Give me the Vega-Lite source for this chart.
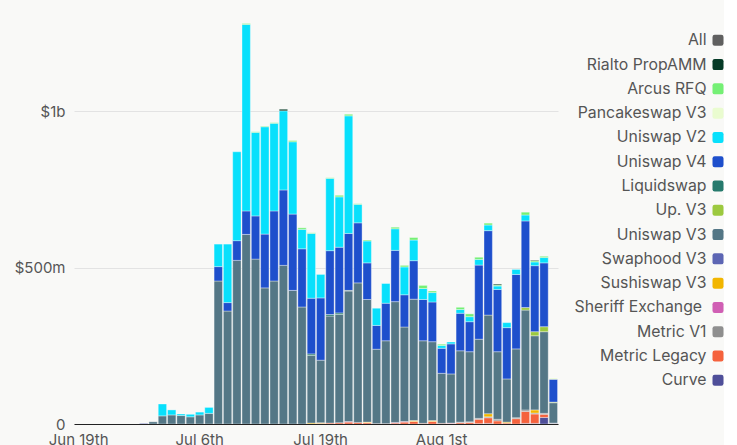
{
  "$schema": "https://vega.github.io/schema/vega-lite/v6.json",
  "background": "#f9f9f7",
  "padding": {"left": 14, "top": 11, "right": 0, "bottom": 0},
  "spacing": 10,
  "config": {
    "view": {"stroke": null},
    "font": "Inter",
    "axis": {"labelFont": "Inter", "labelFontSize": 15, "labelColor": "#555555"}
  },
  "datasets": {
    "volume": [
      {"d": "Jun 30th", "Swaphood V3": 2},
      {"d": "Jul 1st", "Uniswap V3": 7},
      {"d": "Jul 2nd", "Uniswap V3": 26, "Uniswap V2": 38},
      {"d": "Jul 3rd", "Uniswap V3": 29, "Uniswap V2": 16},
      {"d": "Jul 4th", "Uniswap V3": 27, "Uniswap V2": 5},
      {"d": "Jul 5th", "Uniswap V3": 23, "Uniswap V2": 8},
      {"d": "Jul 6th", "Uniswap V3": 29, "Uniswap V2": 9},
      {"d": "Jul 7th", "Uniswap V3": 34, "Uniswap V2": 19},
      {"d": "Jul 8th", "Uniswap V3": 457, "Uniswap V4": 46, "Uniswap V2": 72},
      {"d": "Jul 9th", "Uniswap V3": 361, "Uniswap V4": 27, "Uniswap V2": 187},
      {"d": "Jul 10th", "Uniswap V3": 523, "Uniswap V4": 63, "Uniswap V2": 284},
      {"d": "Jul 11th", "Uniswap V3": 606, "Uniswap V4": 75, "Uniswap V2": 596, "Arcus RFQ": 3},
      {"d": "Jul 12th", "Uniswap V3": 527, "Uniswap V4": 138, "Uniswap V2": 267, "Arcus RFQ": 2},
      {"d": "Jul 13th", "Uniswap V3": 435, "Uniswap V4": 172, "Uniswap V2": 343, "Arcus RFQ": 2},
      {"d": "Jul 14th", "Uniswap V3": 457, "Uniswap V4": 224, "Uniswap V2": 280, "Arcus RFQ": 2},
      {"d": "Jul 15th", "Uniswap V3": 507, "Uniswap V4": 241, "Uniswap V2": 253, "Rialto PropAMM": 5},
      {"d": "Jul 16th", "Uniswap V3": 427, "Uniswap V4": 244, "Uniswap V2": 231, "Arcus RFQ": 4},
      {"d": "Jul 17th", "Uniswap V3": 374, "Uniswap V4": 186, "Uniswap V2": 62, "Arcus RFQ": 5},
      {"d": "Jul 18th", "Sushiswap V3": 3, "Uniswap V3": 216, "Liquidswap": 5, "Uniswap V4": 178, "Uniswap V2": 207, "Arcus RFQ": 2},
      {"d": "Jul 19th", "Metric Legacy": 2, "Sushiswap V3": 2, "Uniswap V3": 200, "Uniswap V4": 199, "Uniswap V2": 75},
      {"d": "Jul 20th", "Metric Legacy": 3, "Uniswap V3": 342, "Liquidswap": 5, "Uniswap V4": 204, "Uniswap V2": 231, "Arcus RFQ": 2},
      {"d": "Jul 21st", "Metric Legacy": 4, "Uniswap V3": 346, "Liquidswap": 5, "Uniswap V4": 210, "Uniswap V2": 161, "Arcus RFQ": 5},
      {"d": "Jul 22nd", "Metric Legacy": 6, "Sheriff Exchange V3": 2, "Uniswap V3": 417, "Up. V3": 2, "Uniswap V4": 182, "Uniswap V2": 376, "Arcus RFQ": 5},
      {"d": "Jul 23rd", "Metric Legacy": 5, "Uniswap V3": 446, "Uniswap V4": 192, "Uniswap V2": 59, "Arcus RFQ": 2},
      {"d": "Jul 24th", "Metric Legacy": 4, "Sushiswap V3": 2, "Uniswap V3": 392, "Uniswap V4": 117, "Uniswap V2": 70, "Arcus RFQ": 3},
      {"d": "Jul 25th", "Metric Legacy": 1, "Uniswap V3": 238, "Uniswap V4": 76, "Uniswap V2": 55},
      {"d": "Jul 26th", "Metric Legacy": 1, "Uniswap V3": 265, "Uniswap V4": 120, "Uniswap V2": 63},
      {"d": "Jul 27th", "Metric Legacy": 3, "Sheriff Exchange V3": 2, "Uniswap V3": 386, "Uniswap V4": 164, "Uniswap V2": 69, "Arcus RFQ": 5},
      {"d": "Jul 28th", "Metric Legacy": 6, "Sheriff Exchange V3": 2, "Uniswap V3": 302, "Uniswap V4": 103, "Uniswap V2": 89, "Arcus RFQ": 5},
      {"d": "Jul 29th", "Metric Legacy": 8, "Sushiswap V3": 3, "Uniswap V3": 388, "Uniswap V4": 123, "Uniswap V2": 66, "Arcus RFQ": 8},
      {"d": "Jul 30th", "Metric Legacy": 2, "Uniswap V3": 264, "Uniswap V4": 132, "Uniswap V2": 35, "Arcus RFQ": 10},
      {"d": "Jul 31st", "Metric Legacy": 8, "Sushiswap V3": 3, "Uniswap V3": 252, "Uniswap V4": 127, "Uniswap V2": 30, "Arcus RFQ": 5},
      {"d": "Aug 1st", "Metric Legacy": 2, "Uniswap V3": 160, "Uniswap V4": 80, "Uniswap V2": 9, "Arcus RFQ": 4},
      {"d": "Aug 2nd", "Metric Legacy": 2, "Sheriff Exchange V3": 1, "Uniswap V3": 157, "Uniswap V4": 96, "Uniswap V2": 6},
      {"d": "Aug 3rd", "Metric Legacy": 4, "Metric V1": 2, "Uniswap V3": 228, "Uniswap V4": 120, "Uniswap V2": 12, "Arcus RFQ": 7},
      {"d": "Aug 4th", "Metric Legacy": 5, "Metric V1": 2, "Uniswap V3": 224, "Uniswap V4": 96, "Uniswap V2": 16, "Arcus RFQ": 9},
      {"d": "Aug 5th", "Curve": 1, "Metric Legacy": 14, "Metric V1": 3, "Uniswap V3": 253, "Uniswap V4": 237, "Uniswap V2": 18, "Arcus RFQ": 7},
      {"d": "Aug 6th", "Curve": 2, "Metric Legacy": 18, "Metric V1": 3, "Sushiswap V3": 10, "Uniswap V3": 315, "Uniswap V4": 270, "Uniswap V2": 18, "Arcus RFQ": 6},
      {"d": "Aug 7th", "Metric Legacy": 10, "Metric V1": 5, "Uniswap V3": 216, "Uniswap V4": 199, "Uniswap V2": 11, "Arcus RFQ": 3, "Rialto PropAMM": 3},
      {"d": "Aug 8th", "Metric Legacy": 3, "Sushiswap V3": 3, "Uniswap V3": 138, "Uniswap V4": 164, "Uniswap V2": 16},
      {"d": "Aug 9th", "Metric Legacy": 17, "Metric V1": 3, "Uniswap V3": 220, "Uniswap V4": 238, "Uniswap V2": 16},
      {"d": "Aug 10th", "Curve": 2, "Metric Legacy": 38, "Metric V1": 5, "Uniswap V3": 319, "Up. V3": 8, "Uniswap V4": 277, "Uniswap V2": 19, "Arcus RFQ": 9},
      {"d": "Aug 11th", "Curve": 2, "Metric Legacy": 30, "Metric V1": 3, "Sushiswap V3": 10, "Uniswap V3": 237, "Up. V3": 13, "Uniswap V4": 211, "Uniswap V2": 12, "Arcus RFQ": 4, "Rialto PropAMM": 2},
      {"d": "Aug 12th", "Curve": 21, "Metric Legacy": 10, "Metric V1": 3, "Uniswap V3": 261, "Up. V3": 16, "Uniswap V4": 204, "Uniswap V2": 17, "Arcus RFQ": 4},
      {"d": "Aug 13th", "Curve": 2, "Metric V1": 1, "Uniswap V3": 65, "Up. V3": 2, "Uniswap V4": 73, "Pancakeswap V3": 4}
    ],
    "legend": [
      {"s": "All", "r": 15},
      {"s": "Rialto PropAMM", "r": 14},
      {"s": "Arcus RFQ", "r": 13},
      {"s": "Pancakeswap V3", "r": 12},
      {"s": "Uniswap V2", "r": 11},
      {"s": "Uniswap V4", "r": 10},
      {"s": "Liquidswap", "r": 9},
      {"s": "Up. V3", "r": 8},
      {"s": "Uniswap V3", "r": 7},
      {"s": "Swaphood V3", "r": 6},
      {"s": "Sushiswap V3", "r": 5},
      {"s": "Sheriff Exchange V3", "r": 4},
      {"s": "Metric V1", "r": 3},
      {"s": "Metric Legacy", "r": 2},
      {"s": "Curve", "r": 1}
    ]
  },
  "hconcat": [
    {
      "width": 484,
      "height": 413,
      "data": {"name": "volume"},
      "transform": [
        {"fold": ["Curve", "Metric Legacy", "Metric V1", "Sheriff Exchange V3", "Sushiswap V3", "Swaphood V3", "Uniswap V3", "Up\\. V3", "Liquidswap", "Uniswap V4", "Uniswap V2", "Pancakeswap V3", "Arcus RFQ", "Rialto PropAMM"], "as": ["s", "v"]},
        {"filter": "isValid(datum.v) && datum.v > 0"},
        {"lookup": "s", "from": {"data": {"name": "legend"}, "key": "s", "fields": ["r"]}}
      ],
      "mark": {"type": "bar", "stroke": "#ffffff", "strokeWidth": 0.8, "strokeOpacity": 0.45},
      "encoding": {
        "x": {
          "field": "d",
          "type": "nominal",
          "scale": {
            "domain": ["Jun 19th", "Jun 20th", "Jun 22nd", "Jun 24th", "Jun 26th", "Jun 28th", "Jun 29th", "Jun 30th", "Jul 1st", "Jul 2nd", "Jul 3rd", "Jul 4th", "Jul 5th", "Jul 6th", "Jul 7th", "Jul 8th", "Jul 9th", "Jul 10th", "Jul 11th", "Jul 12th", "Jul 13th", "Jul 14th", "Jul 15th", "Jul 16th", "Jul 17th", "Jul 18th", "Jul 19th", "Jul 20th", "Jul 21st", "Jul 22nd", "Jul 23rd", "Jul 24th", "Jul 25th", "Jul 26th", "Jul 27th", "Jul 28th", "Jul 29th", "Jul 30th", "Jul 31st", "Aug 1st", "Aug 2nd", "Aug 3rd", "Aug 4th", "Aug 5th", "Aug 6th", "Aug 7th", "Aug 8th", "Aug 9th", "Aug 10th", "Aug 11th", "Aug 12th", "Aug 13th"],
            "paddingInner": 0.1,
            "paddingOuter": 0.05
          },
          "axis": {
            "title": null,
            "values": ["Jun 19th", "Jul 6th", "Jul 19th", "Aug 1st"],
            "labelAngle": 0,
            "ticks": false,
            "labelPadding": 8,
            "domainColor": "#222222",
            "domainWidth": 1,
            "zindex": 1
          }
        },
        "y": {
          "field": "v",
          "type": "quantitative",
          "stack": "zero",
          "scale": {"domain": [0, 1320], "nice": false},
          "axis": {
            "title": null,
            "values": [0, 500, 1000],
            "labelExpr": "datum.value == 0 ? '0' : datum.value >= 1000 ? '$' + datum.value / 1000 + 'b' : '$' + datum.value + 'm'",
            "ticks": false,
            "domain": false,
            "labelPadding": 9,
            "gridColor": "#e3e3e3"
          }
        },
        "order": {"field": "r", "type": "quantitative", "sort": "ascending"},
        "color": {
          "field": "s",
          "type": "nominal",
          "scale": {
            "domain": ["Curve", "Metric Legacy", "Metric V1", "Sheriff Exchange V3", "Sushiswap V3", "Swaphood V3", "Uniswap V3", "Up. V3", "Liquidswap", "Uniswap V4", "Uniswap V2", "Pancakeswap V3", "Arcus RFQ", "Rialto PropAMM", "All"],
            "range": ["#4f4f99", "#f5623d", "#8f8f8f", "#d05fb4", "#f2b600", "#5d66b4", "#547786", "#9cc93f", "#267a6d", "#1e4fcc", "#08e0fc", "#eafcd0", "#75f075", "#053a26", "#606060"]
          },
          "legend": null
        }
      }
    },
    {
      "width": 150,
      "height": 413,
      "data": {"name": "legend"},
      "encoding": {
        "y": {
          "field": "s",
          "type": "nominal",
          "sort": null,
          "scale": {"type": "point", "padding": 0, "range": [29.3, 369.3]},
          "axis": null
        },
        "x": {"datum": 1, "type": "quantitative", "scale": {"domain": [0, 1]}, "axis": null}
      },
      "layer": [
        {
          "mark": {"type": "text", "align": "right", "baseline": "middle", "dx": -11.5, "fontSize": 15.8, "font": "Inter", "color": "#555555", "limit": 141, "ellipsis": "\u200b"},
          "encoding": {"text": {"field": "s"}}
        },
        {
          "mark": {
            "type": "point",
            "filled": true,
            "opacity": 1,
            "size": 121,
            "shape": "M -0.6 -1 H 0.6 Q 1 -1 1 -0.6 V 0.6 Q 1 1 0.6 1 H -0.6 Q -1 1 -1 0.6 V -0.6 Q -1 -1 -0.6 -1 Z"
          },
          "encoding": {
            "color": {
              "field": "s",
              "type": "nominal",
              "scale": {
                "domain": ["Curve", "Metric Legacy", "Metric V1", "Sheriff Exchange V3", "Sushiswap V3", "Swaphood V3", "Uniswap V3", "Up. V3", "Liquidswap", "Uniswap V4", "Uniswap V2", "Pancakeswap V3", "Arcus RFQ", "Rialto PropAMM", "All"],
                "range": ["#4f4f99", "#f5623d", "#8f8f8f", "#d05fb4", "#f2b600", "#5d66b4", "#547786", "#9cc93f", "#267a6d", "#1e4fcc", "#08e0fc", "#eafcd0", "#75f075", "#053a26", "#606060"]
              },
              "legend": null
            }
          }
        }
      ]
    }
  ]
}
